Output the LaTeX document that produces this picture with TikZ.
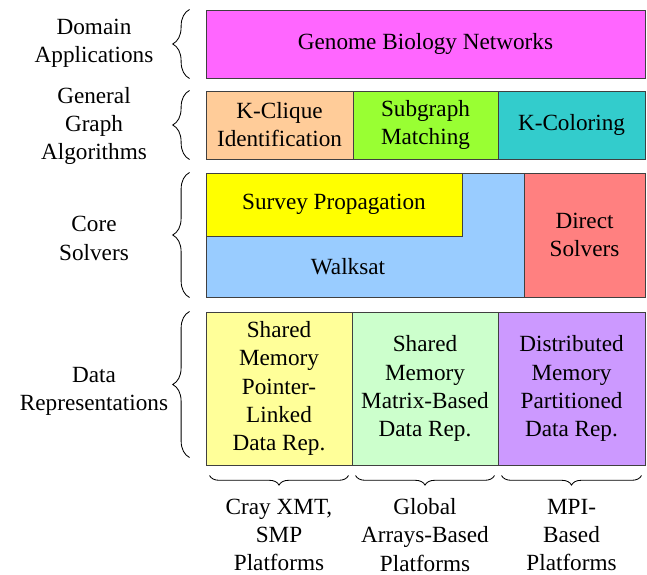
\documentclass[tikz,border=0pt]{standalone}
\usepackage{fontspec}
\setmainfont{LiberationSerif}[Extension=.ttf,UprightFont=*-Regular]
\usepackage{xcolor}
\usepackage{tikz}
\usetikzlibrary{
  positioning,
  calc,
  decorations.pathreplacing
}
\definecolor{appmagenta}{RGB}{255,102,255}
\definecolor{algpeach}{RGB}{255,204,153}
\definecolor{alglime}{RGB}{153,255,51}
\definecolor{algteal}{RGB}{51,204,204}
\definecolor{solvyellow}{RGB}{255,255,0}
\definecolor{solvblue}{RGB}{153,204,255}
\definecolor{solvred}{RGB}{255,128,128}
\definecolor{reppale}{RGB}{255,255,153}
\definecolor{repgreen}{RGB}{204,255,204}
\definecolor{replilac}{RGB}{204,153,255}
\newcommand{\bigtxt}{\fontsize{16.5}{20}\selectfont}

\begin{document}
\begin{tikzpicture}[
  layer/.style={draw=black!75,line width=0.7pt,inner sep=0pt,
                minimum height=1.7cm,align=center,font=\bigtxt},
  side/.style ={align=center,font=\bigtxt},
  lbrc/.style ={decorate,decoration={brace,amplitude=0.42cm},line width=0.6pt},
  bbrc/.style ={decorate,decoration={brace,amplitude=0.24cm},line width=0.6pt},
]
\useasboundingbox (0,0) rectangle (16.175,-14.35);

% layers
\node[layer,fill=appmagenta,minimum width=10.975cm] (genome) at (10.6375,-1.1)
  {Genome Biology Networks};

\node[layer,fill=algpeach,minimum width=3.675cm] (kclique)  at ( 6.9875,-3.125)
  {K-Clique\\Identification};
\node[layer,fill=alglime, minimum width=3.625cm] (subgraph) at (10.6375,-3.125)
  {Subgraph\\Matching};
\node[layer,fill=algteal, minimum width=3.675cm] (kcolor)   at (14.2875,-3.125)
  {K-Coloring};

\node[layer,fill=solvblue,minimum width=7.95cm,minimum height=3.1cm] (walk)
  at (9.125,-5.875) {};
\node[layer,fill=solvyellow,minimum width=6.4cm,minimum height=1.575cm] (survey)
  at (8.35,-5.1125) {Survey Propagation};
\node[side] (walktxt) at (8.7,-6.675) {Walksat};
\node[layer,fill=solvred,minimum width=3.025cm,minimum height=3.1cm] (direct)
  at (14.6125,-5.875) {Direct\\Solvers};

\node[layer,fill=reppale, minimum width=3.65cm, minimum height=3.825cm] (ptr)
  at ( 6.975,-9.7125) {Shared\\Memory\\Pointer-\\Linked\\Data Rep.};
\node[layer,fill=repgreen,minimum width=3.65cm, minimum height=3.825cm] (mat)
  at (10.625,-9.7125) {Shared\\Memory\\Matrix-Based\\Data Rep.};
\node[layer,fill=replilac,minimum width=3.675cm,minimum height=3.825cm] (part)
  at (14.2875,-9.7125) {Distributed\\Memory\\Partitioned\\Data Rep.};

% left side
\node[side] (ldomain) at (2.35,-1.075) {Domain\\Applications};
\node[side] (lalg)    at (2.35,-3.15)  {General\\Graph\\Algorithms};
\node[side] (lcore)   at (2.35,-5.96)  {Core\\Solvers};
\node[side] (ldata)   at (2.35,-9.775) {Data\\Representations};

\draw[lbrc] ($(genome.south west)+(-0.4,0)$)  -- ($(genome.north west)+(-0.4,0)$);
\draw[lbrc] ($(kclique.south west)+(-0.4,0)$) -- ($(kclique.north west)+(-0.4,0)$);
\draw[lbrc] ($(walk.south west)+(-0.4,0)$)    -- ($(walk.north west)+(-0.4,0)$);
\draw[lbrc] ($(ptr.south west)+(-0.4,0.2)$)   -- ($(ptr.north west)+(-0.4,0)$);

% platforms
\draw[bbrc] ($(ptr.south east)+(-0.1,-0.25)$)  -- ($(ptr.south west)+(0.1,-0.25)$);
\draw[bbrc] ($(mat.south east)+(-0.1,-0.25)$)  -- ($(mat.south west)+(0.1,-0.25)$);
\draw[bbrc] ($(part.south east)+(-0.1,-0.25)$) -- ($(part.south west)+(0.1,-0.25)$);

\node[side] (pcray) at ( 6.975,-13.375) {Cray XMT,\\SMP\\Platforms};
\node[side] (pga)   at (10.625,-13.375) {Global\\Arrays-Based\\Platforms};
\node[side] (pmpi)  at (14.2875,-13.375) {MPI-\\Based\\Platforms};
\end{tikzpicture}
\end{document}
